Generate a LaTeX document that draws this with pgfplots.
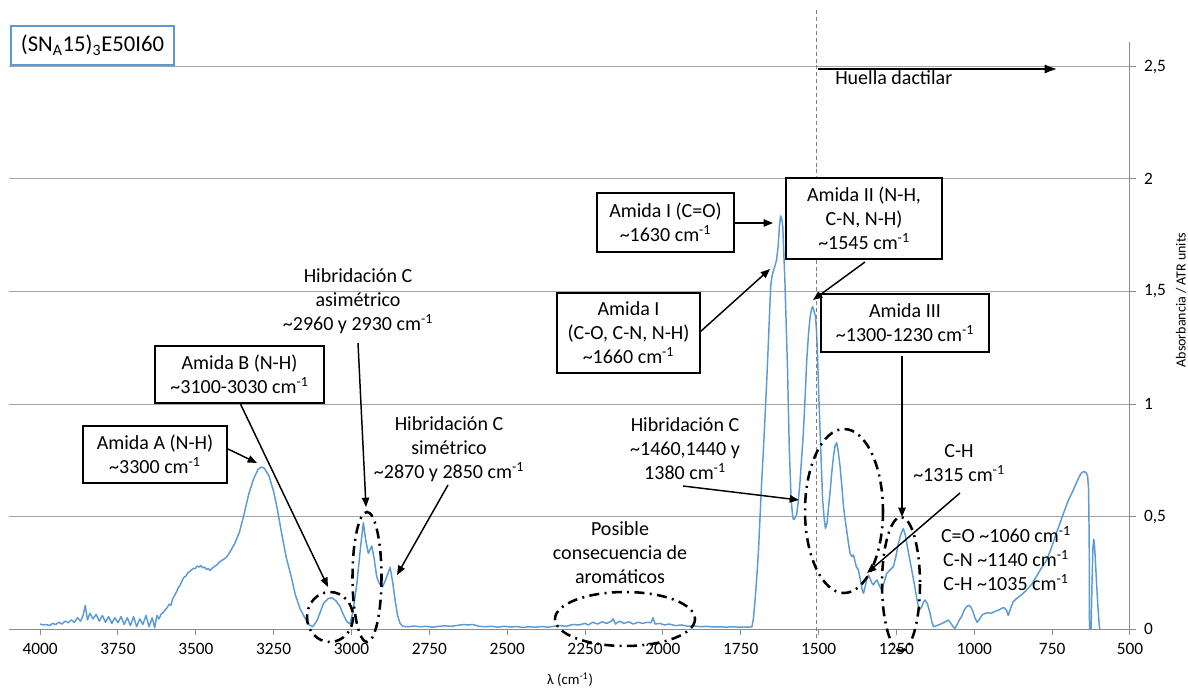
\documentclass[border=0pt]{standalone}
\usepackage{pgfplots}
\pgfplotsset{compat=1.18}
\usepackage{fontspec}
\setmainfont{Carlito}
\usetikzlibrary{arrows.meta}
\definecolor{specblue}{HTML}{5B9BD5}
\definecolor{gridgray}{HTML}{A6A6A6}
\definecolor{axgray}{HTML}{8C8C8C}
\newcommand{\ann}{\fontsize{15}{18}\selectfont}
\newcommand{\cmi}{cm\textsuperscript{-1}}
\pgfplotstableread{
x y
4000 0.022
3990 0.018
3980 0.020
3970 0.015
3960 0.025
3950 0.020
3940 0.030
3930 0.022
3920 0.035
3910 0.028
3900 0.040
3890 0.030
3880 0.050
3870 0.035
3862 0.060
3855 0.105
3848 0.040
3840 0.070
3830 0.045
3820 0.065
3810 0.035
3800 0.060
3790 0.030
3780 0.055
3770 0.025
3760 0.050
3750 0.028
3740 0.055
3730 0.020
3720 0.050
3710 0.015
3700 0.055
3690 0.010
3680 0.045
3670 0.020
3660 0.060
3650 0.010
3640 0.050
3632 0.005
3625 0.060
3618 0.045
3612 0.065
3604 0.075
3598 0.085
3592 0.095
3586 0.110
3580 0.105
3574 0.135
3568 0.150
3562 0.165
3556 0.185
3550 0.195
3544 0.215
3538 0.230
3532 0.235
3526 0.250
3520 0.255
3514 0.262
3508 0.270
3502 0.268
3496 0.280
3490 0.275
3484 0.282
3478 0.272
3472 0.275
3466 0.265
3460 0.268
3454 0.260
3448 0.270
3440 0.278
3432 0.285
3424 0.298
3416 0.305
3408 0.312
3400 0.322
3390 0.343
3375 0.380
3360 0.430
3345 0.510
3330 0.600
3315 0.665
3300 0.710
3290 0.720
3280 0.715
3265 0.680
3250 0.610
3240 0.545
3225 0.430
3210 0.320
3195 0.240
3180 0.150
3165 0.090
3150 0.050
3138 0.020
3124 0.010
3110 0.040
3090 0.114
3075 0.135
3063 0.139
3050 0.125
3037 0.100
3025 0.060
3015 0.033
3005 0.022
2995 0.080
2983 0.200
2972 0.350
2962 0.472
2955 0.400
2946 0.336
2935 0.369
2928 0.320
2919 0.232
2910 0.200
2900 0.188
2890 0.220
2876 0.274
2868 0.210
2860 0.129
2852 0.060
2844 0.025
2835 0.012
2820 0.010
2800 0.013
2780 0.010
2760 0.012
2740 0.008
2720 0.012
2700 0.014
2680 0.012
2660 0.016
2640 0.020
2625 0.018
2610 0.020
2590 0.012
2570 0.010
2550 0.012
2530 0.008
2510 0.012
2490 0.009
2470 0.011
2450 0.007
2430 0.010
2410 0.008
2390 0.011
2370 0.008
2350 0.012
2330 0.015
2310 0.012
2290 0.020
2270 0.018
2250 0.025
2240 0.018
2225 0.030
2210 0.022
2195 0.032
2180 0.025
2165 0.035
2160 0.045
2152 0.022
2140 0.035
2125 0.025
2110 0.032
2095 0.022
2080 0.030
2065 0.025
2050 0.030
2038 0.028
2032 0.050
2025 0.022
2010 0.025
1995 0.018
1980 0.022
1960 0.015
1940 0.018
1920 0.012
1900 0.014
1880 0.010
1860 0.012
1840 0.009
1820 0.010
1800 0.008
1780 0.010
1760 0.008
1740 0.009
1725 0.008
1714 0.010
1709 0.050
1704 0.129
1698 0.240
1693 0.350
1688 0.500
1683 0.648
1677 0.800
1672 0.944
1666 1.120
1661 1.284
1657 1.420
1654 1.520
1650 1.565
1646 1.588
1640 1.615
1635 1.640
1630 1.700
1626 1.788
1622 1.836
1618 1.820
1615 1.788
1612 1.680
1608 1.536
1604 1.350
1600 1.166
1597 0.980
1594 0.796
1591 0.680
1588 0.573
1584 0.510
1581 0.487
1577 0.490
1573 0.500
1570 0.514
1565 0.570
1560 0.648
1555 0.750
1549 0.870
1543 1.040
1538 1.196
1532 1.320
1527 1.388
1523 1.420
1519 1.433
1515 1.415
1510 1.388
1507 1.330
1504 1.240
1500 1.060
1495 0.870
1491 0.720
1487 0.573
1482 0.490
1478 0.447
1473 0.470
1469 0.529
1463 0.610
1458 0.692
1452 0.770
1447 0.815
1442 0.828
1437 0.790
1431 0.721
1425 0.630
1420 0.544
1415 0.490
1410 0.440
1405 0.390
1399 0.336
1393 0.322
1388 0.329
1383 0.300
1379 0.277
1372 0.262
1366 0.220
1361 0.180
1356 0.158
1350 0.190
1345 0.225
1340 0.240
1335 0.225
1329 0.205
1324 0.196
1318 0.210
1313 0.218
1307 0.200
1302 0.185
1297 0.173
1290 0.205
1281 0.247
1271 0.262
1260 0.277
1252 0.320
1244 0.380
1236 0.420
1228 0.447
1222 0.420
1215 0.366
1205 0.292
1198 0.240
1191 0.188
1184 0.130
1177 0.084
1170 0.095
1163 0.120
1158 0.129
1150 0.110
1142 0.070
1136 0.030
1131 0.010
1120 0.015
1108 0.022
1096 0.030
1083 0.040
1075 0.025
1068 0.010
1062 0.003
1055 0.020
1048 0.040
1041 0.055
1032 0.085
1024 0.100
1018 0.105
1012 0.100
1005 0.080
998 0.050
991 0.030
985 0.040
975 0.062
965 0.070
955 0.072
945 0.070
939 0.075
930 0.080
920 0.085
912 0.092
905 0.095
897 0.085
891 0.060
885 0.085
875 0.121
865 0.135
850 0.150
832 0.173
815 0.200
800 0.235
785 0.270
767 0.307
750 0.370
738 0.420
725 0.470
712 0.520
700 0.565
690 0.595
682 0.618
672 0.650
662 0.680
655 0.695
648 0.700
641 0.695
636 0.680
633 0.620
631 0.400
630 0.000
625 0.000
622 0.200
619 0.360
617 0.399
615 0.390
612 0.330
608 0.220
603 0.100
599 0.020
597 0.000
}\spectrum
\begin{document}
\begin{tikzpicture}
\begin{axis}[
  at={(6.75pt,45pt)}, anchor=south west,
  scale only axis, width=840.75pt, height=440.25pt,
  x dir=reverse, xmin=500, xmax=4100, ymin=0, ymax=2.6089,
  axis x line*=bottom, axis y line*=right,
  axis line style={draw=axgray, line width=0.75pt, -},
  xtick={500,750,...,4000}, ytick={0,0.5,...,2.5},
  ymajorgrids, grid style={draw=gridgray, line width=0.75pt},
  tick align=outside, major tick length=4.5pt,
  tick style={draw=axgray, line width=0.75pt},
  /pgf/number format/.cd, assume math mode=true, use comma, 1000 sep={},
  /pgfplots/.cd,
  xticklabel style={font=\fontsize{13}{15}\selectfont, yshift=-3pt},
  yticklabel style={font=\fontsize{13}{15}\selectfont, anchor=west, xshift=2.5pt},
]
\addplot[specblue, line width=1.1pt, line join=round, mark=none] table[x=x, y=y] {\spectrum};
\end{axis}

\begin{scope}[x=0.75pt, y=-0.75pt, shift={(0pt,516.75pt)}]
  % dashed fingerprint line
  \draw[draw=gray, line width=0.75pt, dash pattern=on 3pt off 2.2pt] (816,10) -- (816,640);
  % title
  \node[draw=specblue, line width=1.9pt, minimum width=122.25pt, minimum height=29.25pt, inner sep=0pt, font=\fontsize{17}{20}\selectfont] at (92.5,45.5) {(SN\textsubscript{A}15)\textsubscript{3}E50I60};
  % huella
  \draw[-{Latex[length=10pt,width=7pt]}, line width=2.1pt] (818,69) -- (1058,69);
  \node[anchor=west, font=\ann, inner sep=0pt] at (835,78) {Huella dactilar};
  % boxes
  \tikzset{bx/.style={draw, line width=1.3pt, fill=white, inner sep=0pt, align=center, font=\ann}}
  \node[bx, minimum width=108pt, minimum height=42.75pt] at (155,454.5) {Amida A (N-H)\\\textasciitilde3300 \cmi};
  \node[bx, minimum width=126.75pt, minimum height=42.75pt] at (239.5,374.5) {Amida B (N-H)\\\textasciitilde3100-3030 \cmi};
  \node[bx, minimum width=102.75pt, minimum height=44.25pt] at (665.5,222.5) {Amida I (C=O)\\\textasciitilde1630 \cmi};
  \node[bx, minimum width=107.25pt, minimum height=60pt] at (628.5,333) {Amida I\\(C-O, C-N, N-H)\\\textasciitilde1660 \cmi};
  \node[bx, minimum width=117pt, minimum height=60.75pt] at (864,218.5) {Amida II (N-H,\\C-N, N-H)\\\textasciitilde1545 \cmi};
  \node[bx, minimum width=126pt, minimum height=43.5pt] at (905,323) {Amida III\\\textasciitilde1300-1230 \cmi};
  % free texts
  \tikzset{tx/.style={inner sep=0pt, align=center, font=\ann}}
  \node[tx] at (358,301) {Hibridación C\\asimétrico\\\textasciitilde2960 y 2930 \cmi};
  \node[tx] at (449,449) {Hibridación C\\simétrico\\\textasciitilde2870 y 2850 \cmi};
  \node[tx] at (685,449) {Hibridación C\\\textasciitilde1460,1440 y\\1380 \cmi};
  \node[tx] at (620,553) {Posible\\consecuencia de\\aromáticos};
  \node[tx] at (959,463.5) {C-H\\\textasciitilde1315 \cmi};
  \node[tx] at (1006,559) {C=O \textasciitilde1060 \cmi\\C-N \textasciitilde1140 \cmi\\C-H \textasciitilde1035 \cmi};
  % arrows
  \tikzset{ar/.style={-{Triangle[length=7pt,width=5.5pt]}, line width=1.1pt}}
  \draw[ar] (228,449) -- (257,463);
  \draw[ar] (240,403) -- (328,587);
  \draw[ar] (358,343) -- (366,507);
  \draw[ar] (448,485) -- (397,575);
  \draw[ar] (683,486) -- (799,500);
  \draw[ar] (700,332) -- (770,269);
  \draw[ar] (734,223) -- (773,223);
  \draw[ar] (865,262) -- (813,300);
  \draw[ar] (902,356) -- (902,517);
  \draw[ar] (960,493) -- (867,573);
  % ellipses
  \tikzset{el/.style={line width=1.9pt, dash pattern=on 7.5pt off 4pt on 1.5pt off 4pt}}
  \draw[el] (330,617) ellipse [x radius=23, y radius=25];
  \draw[el] (367,577) ellipse [x radius=14.5, y radius=65];
  \draw[el] (625,619) ellipse [x radius=70, y radius=27];
  \draw[el] (844,511) ellipse [x radius=39, y radius=82];
  \draw[el] (901,584) ellipse [x radius=19, y radius=67];
  % axis labels
  \node[font=\fontsize{11}{13}\selectfont, inner sep=0pt] at (570,680) {λ (\cmi)};
  \node[rotate=90, font=\fontsize{10.5}{12}\selectfont, inner sep=0pt] at (1181,300) {Absorbancia / ATR units};
\end{scope}
\pgfresetboundingbox
\path[use as bounding box] (0,0) rectangle (891pt,516.75pt);
\end{tikzpicture}
\end{document}
